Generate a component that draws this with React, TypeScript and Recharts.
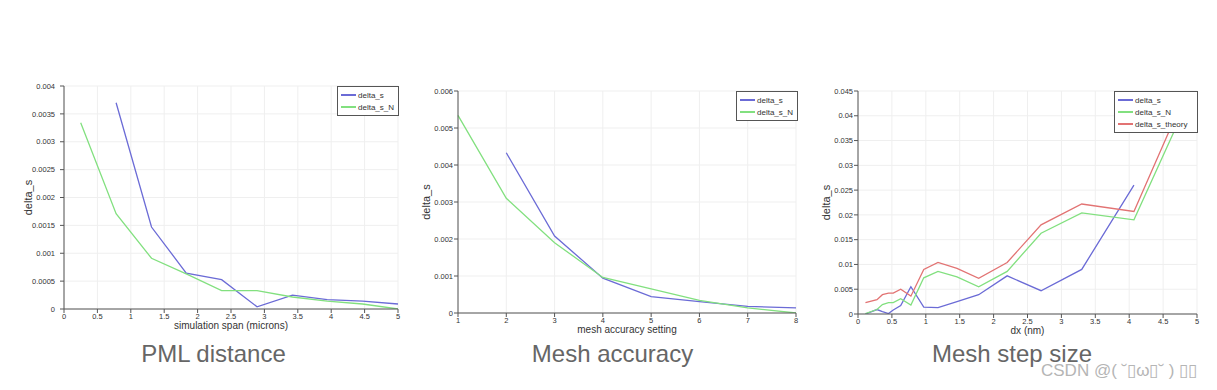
import { LineChart, Line, XAxis, YAxis, CartesianGrid, Label } from "recharts";

// PML distance panel
const pmlSpan = [0.25, 0.78, 1.31, 1.83, 2.36, 2.89, 3.42, 3.94, 4.47, 5];
const pmlDelta = [null, 0.0037, 0.00147, 0.000645, 0.000525, 0.00004, 0.00025, 0.000167, 0.000143, 0.00009];
const pmlDeltaN = [0.00334, 0.00171, 0.00091, 0.00063, 0.00033, 0.00033, 0.000215, 0.000143, 0.00009, 0];
const pmlXTicks = [0, 0.5, 1, 1.5, 2, 2.5, 3, 3.5, 4, 4.5, 5];
const pmlYTicks = [0, 0.0005, 0.001, 0.0015, 0.002, 0.0025, 0.003, 0.0035, 0.004];

// Mesh accuracy panel
const accSetting = [1, 2, 3, 4, 5, 6, 7, 8];
const accDelta = [null, 0.00433, 0.00208, 0.00094, 0.00044, 0.00031, 0.00018, 0.00014];
const accDeltaN = [0.00534, 0.0031, 0.0019, 0.00096, 0.00065, 0.00034, 0.00014, 0];
const accXTicks = [1, 2, 3, 4, 5, 6, 7, 8];
const accYTicks = [0, 0.001, 0.002, 0.003, 0.004, 0.005, 0.006];

// Mesh step size panel
const stepDx = [0.11, 0.28, 0.36, 0.45, 0.52, 0.63, 0.78, 0.97, 1.18, 1.46, 1.78, 2.2, 2.7, 3.3, 4.07, 5];
const stepDelta = [0, 0.0009, 0.0005, 0.0001, 0.0008, 0.0017, 0.0055, 0.0014, 0.0013, 0.0025, 0.0039, 0.0077, 0.0047, 0.009, 0.026, null];
const stepDeltaN = [0.0001, 0.0009, 0.0019, 0.0023, 0.0023, 0.0031, 0.0018, 0.0073, 0.0086, 0.0075, 0.0055, 0.0086, 0.0163, 0.0204, 0.019, 0.047];
const stepTheory = [0.0023, 0.0029, 0.0039, 0.0042, 0.0042, 0.005, 0.0036, 0.009, 0.0104, 0.0092, 0.0072, 0.0104, 0.018, 0.0222, 0.0207, 0.0497];
const stepXTicks = [0, 0.5, 1, 1.5, 2, 2.5, 3, 3.5, 4, 4.5, 5];
const stepYTicks = [0, 0.005, 0.01, 0.015, 0.02, 0.025, 0.03, 0.035, 0.04, 0.045];

const BLUE = "#6b6bd6";
const GREEN = "#82e07f";
const RED = "#e27373";
const FONT = "'Liberation Sans', Arial, sans-serif";

type Series = { key: string; color: string };

const pmlData = pmlSpan.map((x, i) => ({ x, delta_s: pmlDelta[i], delta_s_N: pmlDeltaN[i] }));
const accData = accSetting.map((x, i) => ({ x, delta_s: accDelta[i], delta_s_N: accDeltaN[i] }));
const stepData = stepDx.map((x, i) => ({
  x,
  delta_s: stepDelta[i],
  delta_s_N: stepDeltaN[i],
  delta_s_theory: stepTheory[i],
}));

function Legend({ left, top, width, series }: { left: number; top: number; width: number; series: Series[] }) {
  return (
    <div
      style={{
        position: "absolute",
        left,
        top,
        width,
        boxSizing: "border-box",
        border: "1px solid #555",
        background: "#fff",
        padding: "2px 3px",
        fontFamily: FONT,
        fontSize: 8,
        color: "#333",
      }}
    >
      {series.map((s) => (
        <div key={s.key} style={{ display: "flex", alignItems: "center", height: 12 }}>
          <span style={{ display: "inline-block", width: 15, height: 1.4, background: s.color, marginRight: 2 }} />
          {s.key}
        </div>
      ))}
    </div>
  );
}

type PanelProps = {
  left: number;
  width: number;
  top: number;
  height: number;
  marginTop: number;
  marginRight: number;
  yAxisWidth: number;
  xAxisHeight: number;
  yTickMargin: number;
  data: any[];
  series: Series[];
  xTicks: number[];
  yTicks: number[];
  xLabel: string;
  yLabelX: number;
};

function Panel(p: PanelProps) {
  const xDomain = [p.xTicks[0], p.xTicks[p.xTicks.length - 1]];
  const yDomain = [p.yTicks[0], p.yTicks[p.yTicks.length - 1]];
  return (
    <div style={{ position: "absolute", left: p.left, top: p.top }}>
      <LineChart
        width={p.width}
        height={p.height}
        data={p.data}
        margin={{ top: p.marginTop, right: p.marginRight, left: 0, bottom: 0 }}
      >
        <CartesianGrid stroke="#efefef" strokeWidth={1} />
        <XAxis
          dataKey="x"
          type="number"
          domain={xDomain}
          ticks={p.xTicks}
          interval={0}
          height={p.xAxisHeight}
          tickSize={4}
          tickMargin={1}
          stroke="#555"
          tick={{ fontSize: 7.5, fill: "#333", fontFamily: FONT }}
        >
          <Label
            content={(lp: any) => {
              const vb = lp.viewBox || {};
              return (
                <text
                  x={vb.x + vb.width / 2}
                  y={vb.y + 20}
                  textAnchor="middle"
                  fontSize={10}
                  fill="#333"
                  fontFamily={FONT}
                >
                  {p.xLabel}
                </text>
              );
            }}
          />
        </XAxis>
        <YAxis
          type="number"
          domain={yDomain}
          ticks={p.yTicks}
          interval={0}
          allowDataOverflow
          width={p.yAxisWidth}
          tickSize={4}
          tickMargin={p.yTickMargin}
          stroke="#555"
          tick={{ fontSize: 7.5, fill: "#333", fontFamily: FONT }}
        >
          <Label
            content={(lp: any) => {
              const vb = lp.viewBox || {};
              const cy = vb.y + vb.height / 2;
              return (
                <text
                  x={p.yLabelX}
                  y={cy}
                  transform={`rotate(-90, ${p.yLabelX}, ${cy})`}
                  textAnchor="middle"
                  dominantBaseline="central"
                  fontSize={11}
                  fill="#333"
                  fontFamily={FONT}
                >
                  delta_s
                </text>
              );
            }}
          />
        </YAxis>
        {p.series.map((s) => (
          <Line
            key={s.key}
            dataKey={s.key}
            type="linear"
            stroke={s.color}
            strokeWidth={1.3}
            dot={false}
            isAnimationActive={false}
          />
        ))}
      </LineChart>
    </div>
  );
}

const twoSeries: Series[] = [
  { key: "delta_s", color: BLUE },
  { key: "delta_s_N", color: GREEN },
];
const threeSeries: Series[] = [...twoSeries, { key: "delta_s_theory", color: RED }];

export default function App() {
  return (
    <div style={{ position: "absolute", left: 0, top: 0, width: 1217, height: 390, background: "#fff", overflow: "hidden" }}>
      <svg width={1217} height={390} style={{ position: "absolute", left: 0, top: 0 }}>
        <text x={213.5} y={362} textAnchor="middle" fontSize={24} fill="#666" fontFamily={FONT}>
          PML distance
        </text>
        <text x={612.5} y={362} textAnchor="middle" fontSize={24} fill="#666" fontFamily={FONT}>
          Mesh accuracy
        </text>
        <text x={1012} y={362} textAnchor="middle" fontSize={24} fill="#666" fontFamily={FONT}>
          Mesh step size
        </text>
        <text x={1041} y={376} fontSize={17} fill="#b5b5b5" fontFamily={FONT}>
          CSDN @( ˘▯ω▯˘ ) ▯▯
        </text>
      </svg>
      <Panel
        left={0}
        top={70}
        width={410}
        height={270}
        marginTop={16}
        marginRight={12}
        yAxisWidth={64}
        xAxisHeight={31}
        yTickMargin={5}
        data={pmlData}
        series={twoSeries}
        xTicks={pmlXTicks}
        yTicks={pmlYTicks}
        xLabel="simulation span (microns)"
        yLabelX={28}
      />
      <Panel
        left={390}
        top={70}
        width={420}
        height={270}
        marginTop={21}
        marginRight={14}
        yAxisWidth={68}
        xAxisHeight={27}
        yTickMargin={1}
        data={accData}
        series={twoSeries}
        xTicks={accXTicks}
        yTicks={accYTicks}
        xLabel="mesh accuracy setting"
        yLabelX={36}
      />
      <Panel
        left={800}
        top={70}
        width={417}
        height={270}
        marginTop={21}
        marginRight={20}
        yAxisWidth={58}
        xAxisHeight={26}
        yTickMargin={1}
        data={stepData}
        series={threeSeries}
        xTicks={stepXTicks}
        yTicks={stepYTicks}
        xLabel="dx (nm)"
        yLabelX={26}
      />
      <Legend left={337} top={86} width={62} series={twoSeries} />
      <Legend left={736} top={91} width={62} series={twoSeries} />
      <Legend left={1114} top={91} width={84} series={threeSeries} />
    </div>
  );
}
